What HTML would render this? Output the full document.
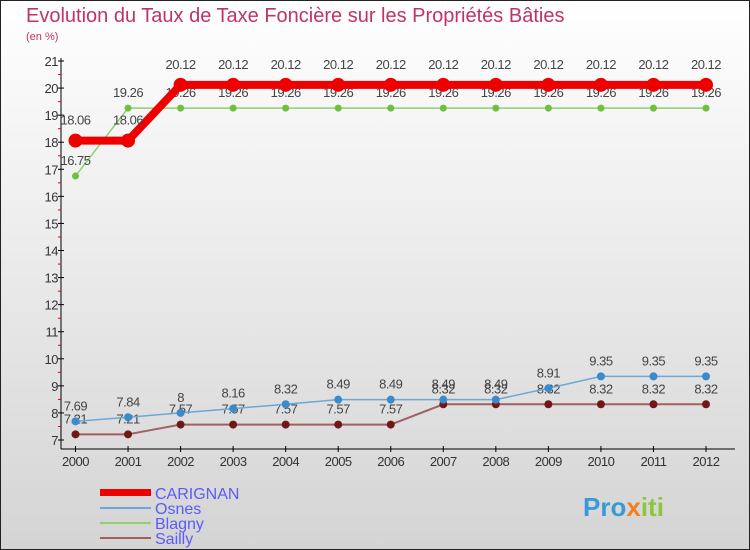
<!DOCTYPE html>
<html><head><meta charset="utf-8"><style>
body{margin:0}
svg{display:block;font-family:"Liberation Sans",sans-serif}
</style></head><body>
<svg width="750" height="550" xmlns="http://www.w3.org/2000/svg">
<defs><linearGradient id="bg" x1="0" y1="0" x2="0" y2="1"><stop offset="0" stop-color="#ffffff"/><stop offset="1" stop-color="#d4d4d4"/></linearGradient></defs>
<rect x="0.5" y="0.5" width="749" height="549" fill="url(#bg)" stroke="#222"/>
<text x="26" y="22" font-size="20" fill="#c0336a">Evolution du Taux de Taxe Foncière sur les Propriétés Bâties</text>
<text x="26" y="40" font-size="11" fill="#c0336a">(en %)</text>
<g id="axes"></g><g id="series"></g>
<g>
<rect x="100" y="489" width="51" height="7" fill="#ee0000"/>
<text x="155" y="499" font-size="16" fill="#5a5aff">CARIGNAN</text>
<line x1="100" y1="508" x2="151" y2="508" stroke="#6aa8d8" stroke-width="2"/>
<text x="155" y="514" font-size="16" fill="#5a5aff">Osnes</text>
<line x1="100" y1="523" x2="151" y2="523" stroke="#90d070" stroke-width="2"/>
<text x="155" y="529" font-size="16" fill="#5a5aff">Blagny</text>
<line x1="100" y1="538" x2="151" y2="538" stroke="#a06060" stroke-width="2"/>
<text x="155" y="544" font-size="16" fill="#5a5aff">Sailly</text>
</g>
<text x="583" y="516" font-size="26" font-weight="bold" fill="#3a9ad9">Pro<tspan fill="#f08020">x</tspan><tspan fill="#8cc63f">iti</tspan></text>
</svg>
<script>
const years=[2000,2001,2002,2003,2004,2005,2006,2007,2008,2009,2010,2011,2012];
const yTicks=[7,8,9,10,11,12,13,14,15,16,17,18,19,20,21];
const carignan=[18.06,18.06,20.12,20.12,20.12,20.12,20.12,20.12,20.12,20.12,20.12,20.12,20.12];
const osnes=[7.69,7.84,8,8.16,8.32,8.49,8.49,8.49,8.49,8.91,9.35,9.35,9.35];
const blagny=[16.75,19.26,19.26,19.26,19.26,19.26,19.26,19.26,19.26,19.26,19.26,19.26,19.26];
const sailly=[7.21,7.21,7.57,7.57,7.57,7.57,7.57,8.32,8.32,8.32,8.32,8.32,8.32];
const NS="http://www.w3.org/2000/svg";
const xs=i=>75.5+i*(706-75.5)/(years.length-1);
const ys=v=>440-(v-7)*(440-61)/14;
function mk(t,a,p){const e=document.createElementNS(NS,t);for(const k in a)e.setAttribute(k,a[k]);p.appendChild(e);return e;}
const ax=document.getElementById('axes');
let l=mk('line',{x1:61,y1:58,x2:61,y2:449,stroke:'#000'},ax);


l=mk('line',{x1:61,y1:449,x2:735,y2:449,stroke:'#000'},ax);


yTicks.forEach(v=>{const y=ys(v);
mk('line',{x1:58,y1:y,x2:64,y2:y,stroke:'#000'},ax);
if(v<21)mk('line',{x1:58,y1:y-13.5,x2:61,y2:y-13.5,stroke:'#e00'},ax);
const t=mk('text',{x:58,y:y+5,'font-size':13,'text-anchor':'end',fill:'#333','letter-spacing':'-0.5'},ax);t.textContent=v;

});
years.forEach((yr,i)=>{const x=xs(i);
mk('line',{x1:x,y1:446,x2:x,y2:452,stroke:'#000'},ax);
const t=mk('text',{x:x,y:466,'font-size':13,'text-anchor':'middle',fill:'#333','letter-spacing':'-0.5'},ax);t.textContent=yr;

});
const sg=document.getElementById('series');
function draw(name,vals,color,w,r,dot,lblDy){
const g=mk('g',{},sg);


mk('polyline',{points:vals.map((v,i)=>xs(i)+','+ys(v)).join(' '),fill:'none',stroke:color,'stroke-width':w,'stroke-linejoin':'round'},g);
vals.forEach((v,i)=>{const c=mk('circle',{cx:xs(i),cy:ys(v),r:r,fill:dot},g);


const t=mk('text',{x:xs(i),y:ys(v)+lblDy,'font-size':13,'text-anchor':'middle',fill:'#444','letter-spacing':'-0.5'},g);t.textContent=v;

});}
draw('sailly',sailly,'#a06060',2,4,'#701818',-11);
draw('blagny',blagny,'#90d070',1.5,3.5,'#70c040',-11);
draw('osnes',osnes,'#6aa8d8',1.5,4,'#3a8acc',-11);
draw('carignan',carignan,'#ee0000',8,7,'#ee0000',-16);
</script>
</body></html>
